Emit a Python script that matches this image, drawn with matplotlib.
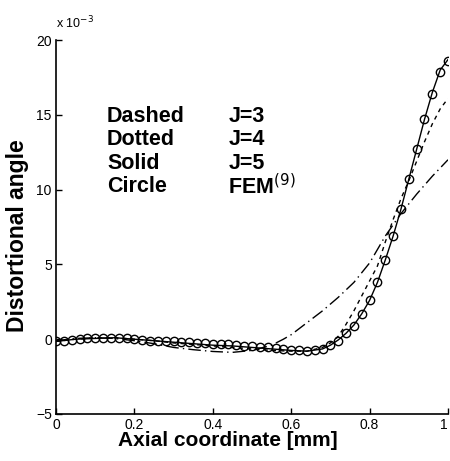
import matplotlib
matplotlib.use('Agg')
import matplotlib.pyplot as plt

plt.rcParams['font.family'] = ['Liberation Sans', 'DejaVu Sans']

# FEM reference (circles)
x_fem = [0.00, 0.02, 0.04, 0.06, 0.08, 0.10, 0.12, 0.14, 0.16, 0.18,
         0.20, 0.22, 0.24, 0.26, 0.28, 0.30, 0.32, 0.34, 0.36, 0.38,
         0.40, 0.42, 0.44, 0.46, 0.48, 0.50, 0.52, 0.54, 0.56, 0.58,
         0.60, 0.62, 0.64, 0.66, 0.68, 0.70, 0.72, 0.74, 0.76, 0.78,
         0.80, 0.82, 0.84, 0.86, 0.88, 0.90, 0.92, 0.94, 0.96, 0.98, 1.00]
y_fem = [-0.15, -0.10, -0.05, 0.00, 0.05, 0.05, 0.10, 0.10, 0.10, 0.05,
         0.00, -0.05, -0.10, -0.10, -0.15, -0.15, -0.20, -0.20, -0.25, -0.25,
         -0.30, -0.35, -0.35, -0.40, -0.45, -0.45, -0.50, -0.55, -0.60, -0.65,
         -0.70, -0.75, -0.80, -0.75, -0.65, -0.40, -0.10, 0.40, 0.90, 1.70,
         2.60, 3.80, 5.30, 6.90, 8.70, 10.70, 12.70, 14.70, 16.40, 17.90, 18.60]

# J=5 (solid)
x_j5 = [0.00, 0.05, 0.10, 0.15, 0.20, 0.25, 0.30, 0.35, 0.40, 0.45,
        0.50, 0.55, 0.60, 0.64, 0.68, 0.70, 0.72, 0.74, 0.76, 0.78,
        0.80, 0.82, 0.84, 0.86, 0.88, 0.90, 0.92, 0.94, 0.96, 0.98, 1.00]
y_j5 = [-0.15, 0.00, 0.05, 0.10, 0.00, -0.10, -0.20, -0.30, -0.40, -0.45,
        -0.55, -0.65, -0.75, -0.80, -0.65, -0.40, -0.05, 0.40, 0.95, 1.70,
        2.60, 3.80, 5.30, 6.90, 8.70, 10.70, 12.70, 14.70, 16.50, 18.00, 18.70]

# J=4 (dotted)
x_j4 = [0.00, 0.05, 0.10, 0.15, 0.20, 0.25, 0.30, 0.35, 0.40, 0.45,
        0.50, 0.55, 0.60, 0.64, 0.68, 0.70, 0.72, 0.74, 0.76, 0.78,
        0.80, 0.82, 0.84, 0.86, 0.88, 0.90, 0.92, 0.94, 0.96, 0.98, 1.00]
y_j4 = [-0.15, 0.00, 0.10, 0.10, 0.00, -0.10, -0.25, -0.35, -0.45, -0.55,
        -0.65, -0.75, -0.80, -0.80, -0.55, -0.25, 0.20, 1.00, 1.90, 2.90,
        3.90, 4.90, 6.50, 8.00, 9.40, 10.60, 11.90, 13.20, 14.40, 15.40, 16.10]

# J=3 (dashed)
x_j3 = [0.00, 0.05, 0.10, 0.15, 0.20, 0.25, 0.30, 0.35, 0.40, 0.45,
        0.50, 0.55, 0.58, 0.60, 0.64, 0.68, 0.72, 0.76, 0.80, 0.84,
        0.88, 0.92, 0.96, 1.00]
y_j3 = [-0.10, 0.05, 0.10, 0.05, -0.10, -0.30, -0.55, -0.70, -0.82, -0.88,
        -0.75, -0.40, 0.00, 0.30, 1.10, 1.90, 2.80, 3.80, 5.10, 6.90,
        8.40, 9.70, 10.90, 12.00]

fig = plt.figure(figsize=(4.5, 4.61), dpi=100)
ax = fig.add_axes([0.1244, 0.102, 0.8712, 0.811])

ax.plot(x_j3, y_j3, color='black', lw=1.0, dashes=(9, 3, 1, 3))
ax.plot(x_j4, y_j4, color='black', lw=1.0, dashes=(3, 3))
ax.plot(x_j5, y_j5, color='black', lw=1.0)
ax.plot(x_fem, y_fem, 'o', color='black', mfc='none', ms=6, mew=1.0)

ax.set_xlim(0, 1)
ax.set_ylim(-5, 20)
ax.set_xticks([0, 0.2, 0.4, 0.6, 0.8, 1])
ax.set_xticklabels(['0', '0.2', '0.4', '0.6', '0.8', '1'])
ax.set_yticks([-5, 0, 5, 10, 15, 20])
ax.tick_params(direction='in', length=4, width=1, labelsize=10, colors='black', pad=3)
ax.get_xticklabels()[-1].set_horizontalalignment('right')
ax.spines['top'].set_visible(False)
ax.spines['right'].set_visible(False)
ax.spines['left'].set_linewidth(1.2)
ax.spines['bottom'].set_linewidth(1.2)

ax.text(0.0, 1.045, r'x 10$^{-3}$', transform=ax.transAxes, fontsize=9, va='center')

ax.set_xlabel('Axial coordinate [mm]', fontsize=15, fontweight='bold')
ax.set_ylabel('Distortional angle', fontsize=16.5, fontweight='bold')
ax.xaxis.set_label_coords(0.439, -0.045, transform=ax.transAxes)
ax.xaxis.label.set_va('top')
ax.yaxis.set_label_coords(-0.097, 0.476, transform=ax.transAxes)
ax.yaxis.label.set_va('center')

names = ['Dashed', 'Dotted', 'Solid', 'Circle']
labels = ['J=3', 'J=4', 'J=5', r'FEM$^{(9)}$']
for i, (n, l) in enumerate(zip(names, labels)):
    yy = 14.9 - i * 1.56
    ax.text(0.13, yy, n, fontsize=15.5, fontweight='bold', va='center')
    ax.text(0.44, yy, l, fontsize=15.5, fontweight='bold', va='center')

fig.savefig('out.png', dpi=100)
